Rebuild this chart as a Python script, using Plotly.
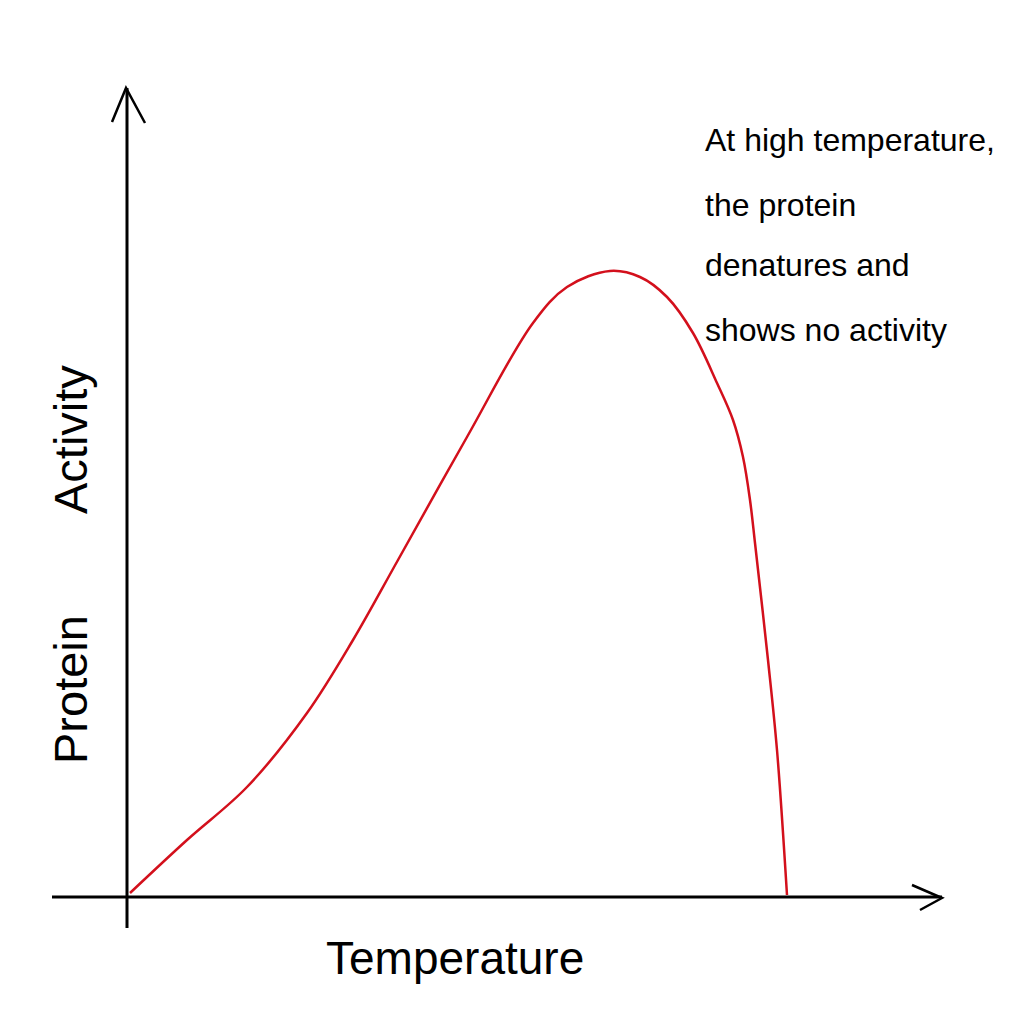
import plotly.graph_objects as go

# Data (arbitrary units: temperature vs. activity)
temperature = [3, 60, 120, 180, 226, 271, 340, 406, 440, 483, 513, 540,
               566, 590, 606, 616, 623, 628, 641, 650, 660]
activity = [4, 57, 110, 184, 257, 337, 460, 574, 610, 626, 620, 600,
            564, 514, 477, 440, 397, 354, 237, 147, 2]

x_label = "Temperature"
y_label_words = ["Protein", "Activity"]
note_lines = ["At high temperature,", "the protein", "denatures and", "shows no activity"]

fig = go.Figure()
fig.add_trace(go.Scatter(
    x=temperature, y=activity, mode="lines",
    line=dict(color="#d3101c", width=2.5, shape="spline", smoothing=1.0),
    hoverinfo="skip", showlegend=False,
))

ink = "#000000"
# axes (drawn in data coordinates: origin at 0,0)
fig.add_shape(type="line", x0=-75, y0=0, x1=815, y1=0, line=dict(color=ink, width=3))
fig.add_shape(type="line", x0=0, y0=-31, x1=0, y1=809, line=dict(color=ink, width=3))
# arrowheads (open chevrons)
fig.add_shape(type="path", path="M 785 12 L 815 -1 L 793 -13",
              line=dict(color=ink, width=2.5))
fig.add_shape(type="path", path="M -15 775 L -1 809 L 18 774",
              line=dict(color=ink, width=2.5))

font_main = "Liberation Sans"
fig.add_annotation(x=328, y=-61, text=x_label, showarrow=False,
                   font=dict(family=font_main, size=46, color=ink),
                   xanchor="center", yanchor="middle")
fig.add_annotation(x=-57, y=207, text=y_label_words[0], showarrow=False, textangle=-90,
                   font=dict(family=font_main, size=47, color=ink),
                   xanchor="center", yanchor="middle")
fig.add_annotation(x=-57, y=457, text=y_label_words[1], showarrow=False, textangle=-90,
                   font=dict(family=font_main, size=47, color=ink),
                   xanchor="center", yanchor="middle")

note_y = [757, 692, 632, 567]
for txt, yy in zip(note_lines, note_y):
    fig.add_annotation(x=576, y=yy, text=txt, showarrow=False,
                       font=dict(family=font_main, size=32, color=ink),
                       xanchor="left", yanchor="middle")

fig.update_layout(
    width=1008, height=1008,
    margin=dict(l=0, r=0, t=0, b=0),
    paper_bgcolor="white", plot_bgcolor="white",
    xaxis=dict(range=[-119, 889], visible=False, fixedrange=True),
    yaxis=dict(range=[-119, 889], visible=False, fixedrange=True),
)

fig.write_html("out.html")
